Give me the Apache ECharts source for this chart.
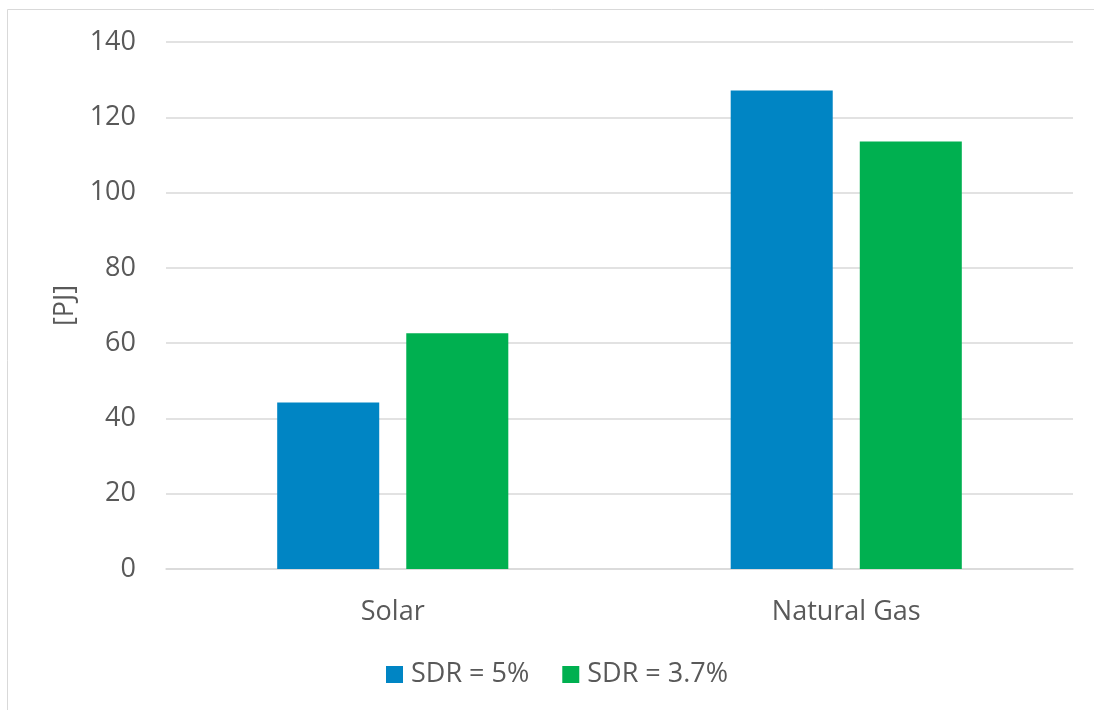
<!DOCTYPE html>
<html>
<head>
<meta charset="utf-8">
<script src="https://cdn.jsdelivr.net/npm/echarts@6/dist/echarts.min.js"></script>
<style>
  html, body { margin: 0; padding: 0; background: #fff; }
  #chart { width: 1094px; height: 710px; }
</style>
</head>
<body>
<div id="chart"></div>
<script>
// Energy demand by source under two social discount rates
const categories = ['Solar', 'Natural Gas'];
const seriesNames = ['SDR = 5%', 'SDR = 3.7%'];
const sdr5 = [44.2, 127.1];
const sdr37 = [62.6, 113.6];
const yTicks = { min: 0, max: 140, interval: 20 };

const FONT = '"Open Sans", Lato, sans-serif';
const TEXT = '#595959';
const GRID = '#d9d9d9';

const chart = echarts.init(document.getElementById('chart'), null, { renderer: 'canvas' });
chart.setOption({
  animation: false,
  backgroundColor: '#fff',
  graphic: [{
    type: 'rect',
    shape: { x: 7.5, y: 9.5, width: 1200, height: 800 },
    style: { fill: 'none', stroke: '#d9d9d9', lineWidth: 1 },
    silent: true
  }],
  grid: { left: 166, right: 21, top: 42, bottom: 141, containLabel: false },
  legend: {
    top: 661,
    left: 386,
    padding: 0,
    itemWidth: 17,
    itemHeight: 17,
    itemGap: 33,
    icon: 'rect',
    textStyle: { fontFamily: FONT, fontSize: 27, color: TEXT, padding: [0, 0, 0, 3] },
    data: seriesNames
  },
  xAxis: {
    type: 'category',
    data: categories,
    axisLine: { show: true, lineStyle: { color: GRID, width: 1.5 } },
    axisTick: { show: false },
    axisLabel: { fontFamily: FONT, fontSize: 27, color: TEXT, margin: 30 }
  },
  yAxis: {
    type: 'value',
    min: yTicks.min,
    max: yTicks.max,
    interval: yTicks.interval,
    name: '[PJ]',
    nameLocation: 'middle',
    nameGap: 86,
    nameRotate: 90,
    nameTextStyle: { fontFamily: FONT, fontSize: 27, color: TEXT },
    axisLine: { show: false },
    axisTick: { show: false },
    splitLine: { lineStyle: { color: GRID, width: 1.5 } },
    axisLabel: { fontFamily: FONT, fontSize: 27, color: TEXT, margin: 30 }
  },
  series: [
    {
      name: seriesNames[0],
      type: 'bar',
      data: sdr5,
      barWidth: '22.5%',
      barGap: '26.5%',
      itemStyle: { color: '#0085C4' }
    },
    {
      name: seriesNames[1],
      type: 'bar',
      data: sdr37,
      barWidth: '22.5%',
      barGap: '26.5%',
      itemStyle: { color: '#00B050' }
    }
  ]
});
</script>
</body>
</html>
